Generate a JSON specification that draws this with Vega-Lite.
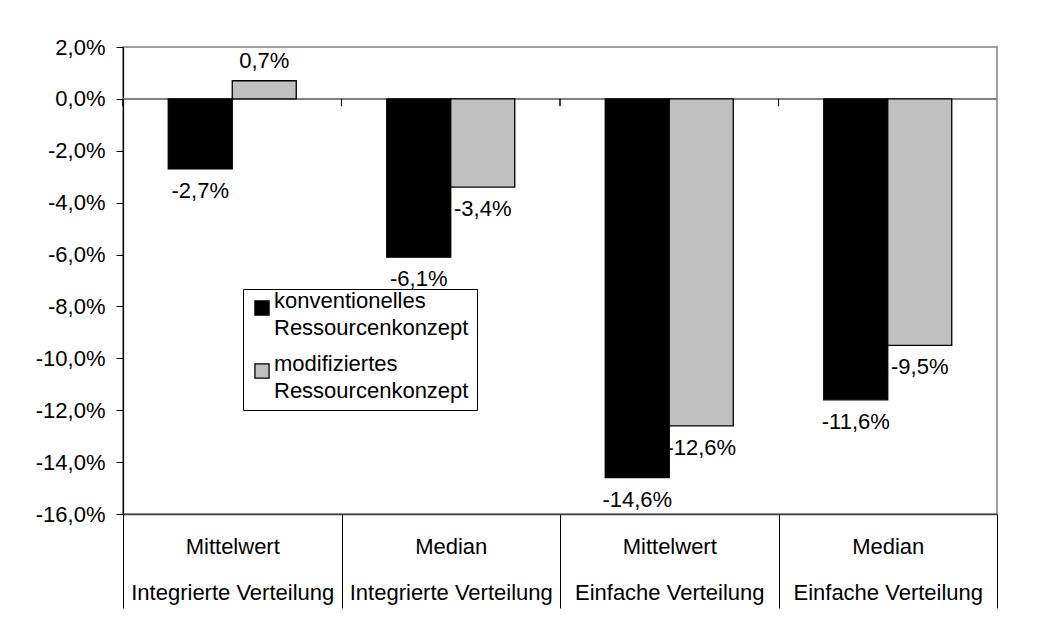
{
  "$schema": "https://vega.github.io/schema/vega-lite/v6.json",
  "width": 874,
  "height": 467,
  "autosize": "none",
  "padding": {"left": 123, "top": 47, "right": 48, "bottom": 112},
  "background": "#ffffff",
  "config": {
    "locale": {"number": {"decimal": ",", "thousands": ".", "grouping": [3], "currency": ["", " €"], "minus": "-"}},
    "view": {"stroke": "#808080", "strokeWidth": 1.5},
    "font": "Liberation Sans",
    "style": {"guide-label": {"lineHeight": 27}}
  },
  "data": {
    "values": [
      {"cat": "Mittelwert|Integrierte Verteilung", "series": "konventionelles Ressourcenkonzept", "value": -0.027},
      {"cat": "Mittelwert|Integrierte Verteilung", "series": "modifiziertes Ressourcenkonzept", "value": 0.007},
      {"cat": "Median|Integrierte Verteilung", "series": "konventionelles Ressourcenkonzept", "value": -0.061},
      {"cat": "Median|Integrierte Verteilung", "series": "modifiziertes Ressourcenkonzept", "value": -0.034},
      {"cat": "Mittelwert|Einfache Verteilung", "series": "konventionelles Ressourcenkonzept", "value": -0.146},
      {"cat": "Mittelwert|Einfache Verteilung", "series": "modifiziertes Ressourcenkonzept", "value": -0.126},
      {"cat": "Median|Einfache Verteilung", "series": "konventionelles Ressourcenkonzept", "value": -0.116},
      {"cat": "Median|Einfache Verteilung", "series": "modifiziertes Ressourcenkonzept", "value": -0.095}
    ]
  },
  "encoding": {
    "x": {
      "field": "cat", "type": "nominal", "sort": null,
      "scale": {"paddingInner": 0, "paddingOuter": 0},
      "axis": {
        "title": null, "labelAngle": 0,
        "labelExpr": "split(datum.label, '|')",
        "labelFontSize": 22, "labelColor": "#000000", "labelLineHeight": 46,
        "labelBaseline": "top", "labelPadding": -72, "labelLimit": 400,
        "tickSize": 94, "tickBand": "extent", "tickColor": "#000000", "tickWidth": 1,
        "domainColor": "#404040", "domainWidth": 1.5
      }
    },
    "xOffset": {
      "field": "series", "type": "nominal",
      "sort": ["konventionelles Ressourcenkonzept", "modifiziertes Ressourcenkonzept"],
      "scale": {"paddingInner": 0, "paddingOuter": 0.707}
    },
    "y": {
      "field": "value", "type": "quantitative",
      "scale": {"domain": [-0.16, 0.02], "nice": false, "zero": false},
      "axis": {
        "title": null, "grid": false, "format": ".1%",
        "values": [0.02, 0, -0.02, -0.04, -0.06, -0.08, -0.1, -0.12, -0.14, -0.16],
        "labelFontSize": 22, "labelColor": "#000000", "labelPadding": 11,
        "tickSize": 7, "tickColor": "#000000", "domainColor": "#000000", "domainWidth": 1.2
      }
    }
  },
  "layer": [
    {
      "mark": {"type": "rule", "color": "#808080", "strokeWidth": 2},
      "encoding": {"y": {"datum": 0}, "x": null, "xOffset": null}
    },
    {
      "mark": {"type": "rule", "color": "#000000", "strokeWidth": 1},
      "encoding": {
        "x": {"field": "cat", "type": "nominal", "sort": null, "bandPosition": 0},
        "xOffset": null,
        "y": {"datum": 0},
        "y2": {"datum": -0.0028}
      }
    },
    {
      "mark": {"type": "bar", "stroke": "#000000", "strokeWidth": 1.3},
      "encoding": {
        "fill": {
          "field": "series", "type": "nominal",
          "scale": {"domain": ["konventionelles Ressourcenkonzept", "modifiziertes Ressourcenkonzept"], "range": ["#000000", "#C0C0C0"]},
          "legend": {
            "title": null, "orient": "none", "legendX": 120, "legendY": 242,
            "direction": "vertical", "strokeColor": "#000000", "fillColor": "#ffffff",
            "padding": 8, "symbolType": "square", "symbolSize": 200,
            "symbolStrokeColor": "#000000", "symbolStrokeWidth": 1.3,
            "labelFontSize": 22, "labelColor": "#000000",
            "labelExpr": "split(datum.label, ' ')", "labelBaseline": "alphabetic",
            "labelOffset": 1, "labelLimit": 400, "rowPadding": 14
          }
        }
      }
    },
    {
      "transform": [{"filter": "datum.value < 0"}],
      "mark": {"type": "text", "dy": 22, "fontSize": 22, "baseline": "middle", "color": "#000000"},
      "encoding": {"text": {"field": "value", "type": "quantitative", "format": ".1%"}}
    },
    {
      "transform": [{"filter": "datum.value >= 0"}],
      "mark": {"type": "text", "dy": -20, "fontSize": 22, "baseline": "middle", "color": "#000000"},
      "encoding": {"text": {"field": "value", "type": "quantitative", "format": ".1%"}}
    }
  ]
}
